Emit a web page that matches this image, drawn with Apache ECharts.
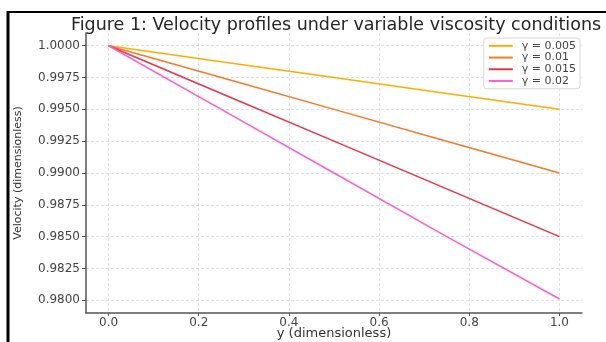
<!DOCTYPE html>
<html>
<head>
<meta charset="utf-8">
<script src="https://cdn.jsdelivr.net/npm/echarts@6/dist/echarts.min.js"></script>
<style>
  html, body { margin: 0; padding: 0; background: #fff; }
  #chart { width: 606px; height: 342px; }
</style>
</head>
<body>
<div id="chart"></div>
<script>
// positions along the channel (x axis)
const yPos = [0, 0.25, 0.5, 0.75, 1.0]
// velocity, one array per gamma
const vel005 = [1.0, 0.99875, 0.9975, 0.99625, 0.995]
const vel010 = [1.0, 0.9975, 0.995, 0.9925, 0.99]
const vel015 = [1.0, 0.99625, 0.9925, 0.98875, 0.985]
const vel020 = [1.0, 0.995, 0.99, 0.985, 0.9801]
const seriesNames = ['γ = 0.005', 'γ = 0.01', 'γ = 0.015', 'γ = 0.02']
// tick labels
const xTicks = [0, 0.2, 0.4, 0.6, 0.8, 1.0]
const yTicks = [0.98, 0.9825, 0.985, 0.9875, 0.99, 0.9925, 0.995, 0.9975, 1.0]

const colors = ['#ffae00', '#f47a2a', '#e8344e', '#ff5fc8']
const font = 'DejaVu Sans'

const chart = echarts.init(document.getElementById('chart'))

const allVel = [vel005, vel010, vel015, vel020]
const seriesArr = allVel.map((vals, i) => {
  return {
    name: seriesNames[i],
    type: 'line',
    data: vals.map((v, j) => [yPos[j], v]),
    showSymbol: false,
    lineStyle: { width: 1.5, color: colors[i] },
    itemStyle: { color: colors[i] },
    z: 3 + i
  }
})

const option = {
  animation: false,
  backgroundColor: '#fff',
  title: {
    text: 'Figure 1: Velocity profiles under variable viscosity conditions',
    left: 331,
    textAlign: 'center',
    top: 11,
    textStyle: { fontFamily: font, fontSize: 17.5, fontWeight: 'normal', color: '#262626' }
  },
  graphic: [
    // frame around the figure
    { type: 'line', shape: { x1: 8, y1: 12, x2: 606, y2: 12 }, style: { stroke: '#000', lineWidth: 2 } },
    { type: 'line', shape: { x1: 8, y1: 11, x2: 8, y2: 342 }, style: { stroke: '#000', lineWidth: 3 } }
  ],
  legend: {
    orient: 'vertical',
    right: 26,
    top: 38,
    padding: [2, 4, 2, 5],
    backgroundColor: '#fff',
    borderColor: '#d8d8d8',
    borderWidth: 1,
    borderRadius: 3,
    icon: 'rect',
    itemWidth: 24,
    itemHeight: 2,
    itemGap: 0,
    textStyle: { fontFamily: font, fontSize: 11, color: '#444', lineHeight: 11.7, padding: [0, 0, 0, 4] },
    data: seriesNames
  },
  grid: { left: 86, right: 24, top: 33, bottom: 29, outerBoundsMode: 'none', containLabel: false },
  xAxis: {
    type: 'value',
    min: -0.05,
    max: 1.05,
    name: 'y (dimensionless)',
    nameLocation: 'middle',
    nameGap: 14,
    nameMoveOverlap: false,
    nameTextStyle: { fontFamily: font, fontSize: 13, color: '#333' },
    axisLine: { show: true, onZero: false, lineStyle: { color: '#555', width: 1.5 } },
    axisTick: { show: true, length: 3, lineStyle: { color: '#555' }, customValues: xTicks },
    axisLabel: {
      fontFamily: font, fontSize: 12, color: '#444', margin: 4,
      customValues: xTicks,
      formatter: v => v.toFixed(1)
    },
    splitLine: { show: true, lineStyle: { color: '#d9d9d9', type: [3, 2], width: 0.8 } }
  },
  yAxis: {
    type: 'value',
    min: 0.979,
    max: 1.001,
    name: 'Velocity (dimensionless)',
    nameLocation: 'middle',
    nameGap: 62,
    nameMoveOverlap: false,
    nameTextStyle: { fontFamily: font, fontSize: 11, color: '#333' },
    axisLine: { show: true, onZero: false, lineStyle: { color: '#555', width: 1.5 } },
    axisTick: { show: true, length: 4, lineStyle: { color: '#555' }, customValues: yTicks },
    axisLabel: {
      fontFamily: font, fontSize: 12, color: '#444', margin: 6,
      customValues: yTicks,
      formatter: v => v.toFixed(4)
    },
    splitLine: { show: true, lineStyle: { color: '#d9d9d9', type: [3, 2], width: 0.8 } }
  },
  series: seriesArr
}

chart.setOption(option)
</script>
</body>
</html>
